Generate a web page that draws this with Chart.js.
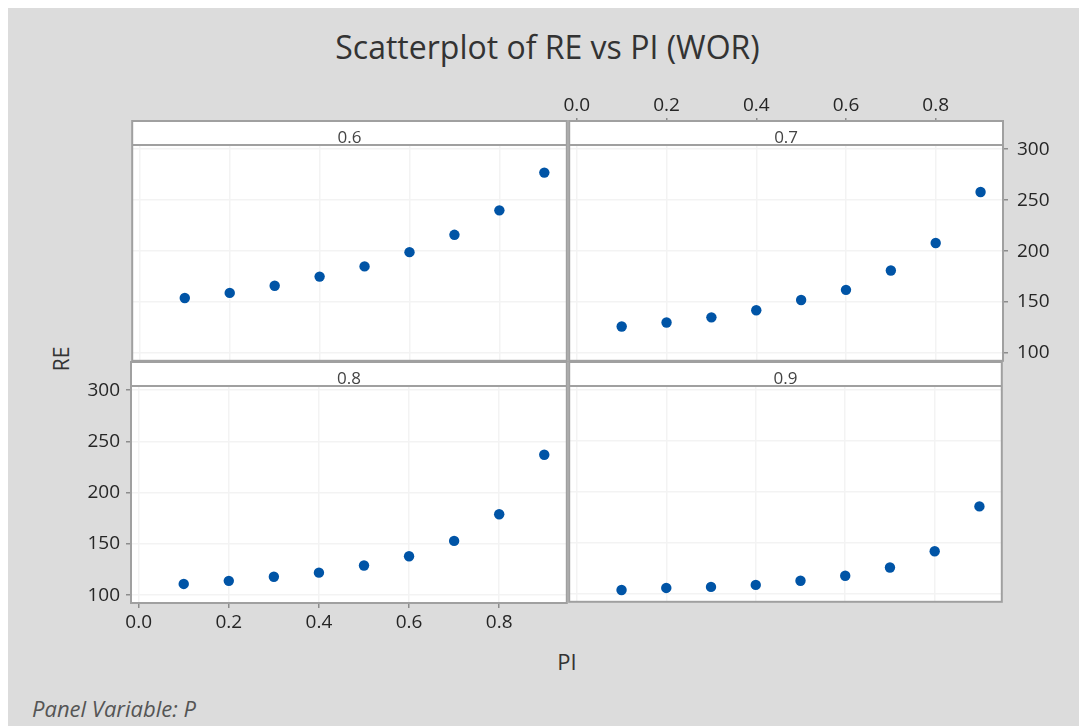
<!DOCTYPE html>
<html>
<head>
<meta charset="utf-8">
<script src="https://cdn.jsdelivr.net/npm/chart.js@4.4.0/dist/chart.umd.min.js"></script>
<style>
body{margin:0;background:#fff;font-family:"Open Sans",sans-serif;}
#page{position:relative;width:1079px;height:726px;overflow:hidden;}
#bg{position:absolute;left:8px;top:8px;right:0;bottom:0;background:#dcdcdc;}
canvas{position:absolute;}
.txt{position:absolute;color:#333;white-space:nowrap;}
#title{left:0;width:1095px;top:26px;text-align:center;font-size:32px;line-height:42px;}
#ylab{left:61px;top:359px;font-size:21px;transform:translate(-50%,-50%) rotate(-90deg);}
#xlab{left:567px;top:661px;font-size:22px;transform:translate(-50%,-50%);}
#note{left:32px;top:694px;font-size:22px;line-height:28px;font-style:italic;color:#555;}
</style>
</head>
<body>
<div id="page">
<div id="bg"></div>
<div class="txt" id="title">Scatterplot of RE vs PI (WOR)</div>
<div class="txt" id="ylab">RE</div>
<div class="txt" id="xlab">PI</div>
<div class="txt" id="note">Panel Variable: P</div>
<canvas id="p06"></canvas>
<canvas id="p07"></canvas>
<canvas id="p08"></canvas>
<canvas id="p09"></canvas>
</div>
<script>
// data
const pi = [0.1, 0.2, 0.3, 0.4, 0.5, 0.6, 0.7, 0.8, 0.9];
const re06 = [154, 159, 166, 175, 185, 199, 216, 240, 277];
const re07 = [126, 130, 135, 142, 152, 162, 181, 208, 258];
const re08 = [111, 114, 118, 122, 129, 138, 153, 179, 237];
const re09 = [104, 106, 107, 109, 113, 118, 126, 142, 186];
const panelNames = ['0.6', '0.7', '0.8', '0.9'];
const xTicks = [0, 0.2, 0.4, 0.6, 0.8];
const yTicks = [100, 150, 200, 250, 300];

const STRIP = 24;
const tickFont = {family: 'Open Sans', size: 19};

// white plot area, header strip and frame
const stripPlugin = {
  id: 'strip',
  beforeDraw(chart){
    const a = chart.chartArea, ctx = chart.ctx;
    ctx.save();
    ctx.fillStyle = '#fff';
    ctx.fillRect(a.left, a.top, a.right - a.left, a.bottom - a.top);
    ctx.restore();
  },
  beforeDatasetsDraw(chart, args, opts){
    const a = chart.chartArea, ctx = chart.ctx;
    ctx.save();
    ctx.fillStyle = '#fff';
    ctx.fillRect(a.left, a.top - STRIP, a.right - a.left, STRIP);
    ctx.strokeStyle = '#a0a0a0';
    ctx.lineWidth = 2;
    ctx.strokeRect(a.left, a.top - STRIP, a.right - a.left, a.bottom - a.top + STRIP);
    ctx.beginPath();
    ctx.moveTo(a.left, a.top);
    ctx.lineTo(a.right, a.top);
    ctx.stroke();
    ctx.fillStyle = '#444';
    ctx.font = '17px "Open Sans"';
    ctx.textAlign = 'center';
    ctx.textBaseline = 'alphabetic';
    ctx.fillText(opts.label, (a.left + a.right) / 2, a.top - 2);
    ctx.restore();
  }
};

function fixSize(size){
  return function(scale){
    if(scale.isHorizontal()) scale.height = size; else scale.width = size;
    scale.paddingLeft = scale.paddingRight = scale.paddingTop = scale.paddingBottom = 0;
  };
}

function axis(pos, shown, size, tickVals, tl, pad, fmt){
  return {
    type: 'linear',
    position: pos,
    afterBuildTicks: s => { s.ticks = tickVals.map(v => ({value: v})); },
    afterFit: fixSize(size),
    border: {display: false},
    grid: {color: '#f3f3f3', lineWidth: 1.5, drawTicks: shown, tickLength: tl, tickColor: '#8c8c8c', tickWidth: 1.5},
    ticks: {display: shown, padding: pad, color: '#262626', font: tickFont, maxRotation: 0, autoSkip: false, callback: fmt}
  };
}

function panel(id, name, values, box, xa, ya){
  const el = document.getElementById(id);
  el.width = box.w; el.height = box.h;
  el.style.left = box.left + 'px';
  el.style.top = box.top + 'px';
  const xs = axis(xa.pos, xa.shown, xa.size, xTicks, xa.tl, xa.pad, v => v.toFixed(1));
  xs.min = -0.017; xs.max = 0.95;
  const ys = axis(ya.pos, ya.shown, ya.size, yTicks, ya.tl, ya.pad, v => String(v));
  ys.min = 92.4; ys.max = 304.1;
  new Chart(el, {
    type: 'scatter',
    data: {
      datasets: [{
        data: pi.map((x, i) => ({x: x, y: values[i]})),
        backgroundColor: '#0054a6',
        borderWidth: 0,
        pointRadius: 5.2
      }]
    },
    options: {
      responsive: false,
      animation: false,
      layout: {padding: box.pad},
      scales: {x: xs, y: ys},
      plugins: {legend: {display: false}, tooltip: {enabled: false}, strip: {label: name}}
    },
    plugins: [stripPlugin]
  });
}

const hidden = {pos: 'bottom', shown: false, size: 0, tl: 0, pad: 0};
const hiddenY = {pos: 'left', shown: false, size: 0, tl: 0, pad: 0};

panel('p06', panelNames[0], re06,
  {left: 127, top: 117, w: 445, h: 249, pad: {left: 4, top: 28, right: 4, bottom: 4}},
  hidden, hiddenY);
panel('p07', panelNames[1], re07,
  {left: 564, top: 81, w: 513, h: 285, pad: {left: 4, top: 4, right: 4, bottom: 4}},
  {pos: 'top', shown: true, size: 60, tl: 27, pad: 1},
  {pos: 'right', shown: true, size: 70, tl: 5, pad: 9});
panel('p08', panelNames[2], re08,
  {left: 40, top: 358, w: 532, h: 289, pad: {left: 4, top: 28, right: 4, bottom: 4}},
  {pos: 'bottom', shown: true, size: 40, tl: 5, pad: 3},
  {pos: 'left', shown: true, size: 87, tl: 5, pad: 6});
panel('p09', panelNames[3], re09,
  {left: 564, top: 358, w: 443, h: 249, pad: {left: 4, top: 28, right: 4, bottom: 4}},
  hidden, hiddenY);
</script>
</body>
</html>
